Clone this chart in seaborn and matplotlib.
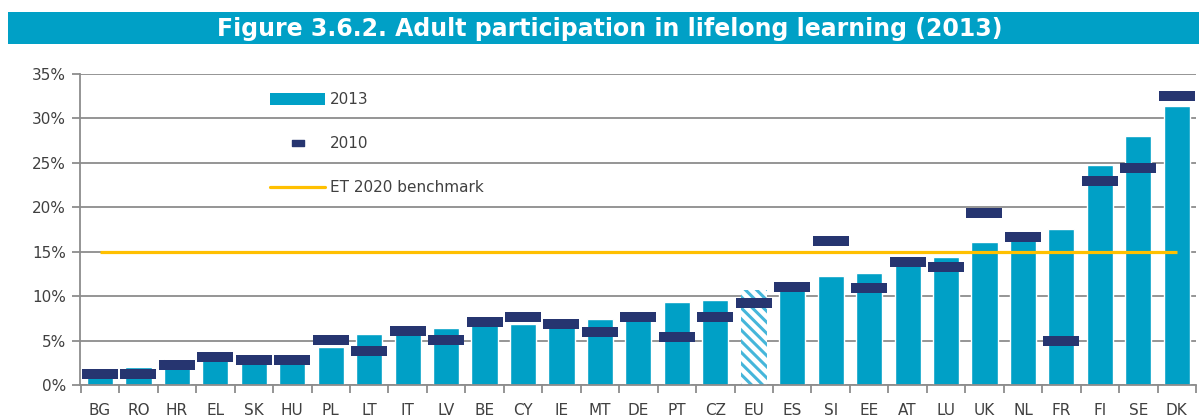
import numpy as np
import pandas as pd
import matplotlib
matplotlib.use("Agg")
import matplotlib.pyplot as plt
from matplotlib.path import Path
from matplotlib.patches import Rectangle, Patch
from matplotlib.lines import Line2D
import seaborn as sns

countries = ["BG", "RO", "HR", "EL", "SK", "HU", "PL", "LT", "IT", "LV", "BE", "CY", "IE", "MT",
             "DE", "PT", "CZ", "EU", "ES", "SI", "EE", "AT", "LU", "UK", "NL", "FR", "FI", "SE", "DK"]
v2013 = [1.5, 2.0, 2.9, 2.9, 2.9, 3.0, 4.3, 5.7, 5.8, 6.4, 6.8, 6.9, 6.6, 7.4,
         7.5, 9.3, 9.6, 10.7, 10.9, 12.3, 12.6, 13.6, 14.4, 16.1, 17.3, 17.6, 24.8, 28.0, 31.4]
v2010 = [1.2, 1.2, 2.2, 3.1, 2.8, 2.8, 5.1, 3.8, 6.1, 5.1, 7.1, 7.7, 6.9, 6.0,
         7.7, 5.4, 7.6, 9.2, 11.0, 16.2, 10.9, 13.8, 13.3, 19.4, 16.6, 4.95, 23.0, 24.4, 32.5]
benchmark = 15.0
title = "Figure 3.6.2. Adult participation in lifelong learning (2013)"
legend_labels = ["2013", "2010", "ET 2020 benchmark"]
yticks = [0, 5, 10, 15, 20, 25, 30, 35]

BAR = "#00A0C6"
NAVY = "#263570"
GOLD = "#FFC000"
GRID = "#8c8c8c"
TXT = "#404040"

sns.set_theme(style="white")
plt.rcParams["font.family"] = ["DejaVu Sans"]
plt.rcParams["hatch.linewidth"] = 2.2

fig = plt.figure(figsize=(11.99, 4.19), dpi=100)
ax = fig.add_axes([80 / 1199, 34 / 419, 1116 / 1199, 311 / 419])

# banner
fig.patches.append(Rectangle((8 / 1199, (419 - 44) / 419), 1 - 8 / 1199, 32 / 419,
                             transform=fig.transFigure, facecolor=BAR, edgecolor="none", zorder=0))
fig.text(610 / 1199, (419 - 29) / 419, title, color="white", fontsize=17, fontweight="bold",
         ha="center", va="center")

df = pd.DataFrame({"country": countries, "y2013": v2013, "y2010": v2010})
x = np.arange(len(countries))

sns.barplot(data=df, x="country", y="y2013", color=BAR, saturation=1, width=0.68, ax=ax, zorder=2)
eu = countries.index("EU")
p = ax.patches[eu]
p.set_facecolor("white")
p.set_edgecolor("#45B6DA")
p.set_hatch("\\\\\\")
p.set_linewidth(0)

# benchmark line
ax.plot(x, np.full(len(x), benchmark), color=GOLD, lw=2.3, zorder=3, solid_capstyle="butt")

# 2010 markers
rect = Path([(-2, -0.5), (2, -0.5), (2, 0.5), (-2, 0.5), (-2, -0.5)],
            [Path.MOVETO, Path.LINETO, Path.LINETO, Path.LINETO, Path.CLOSEPOLY])
ax.scatter(x, df["y2010"], marker=rect, s=26 ** 2, color=NAVY, linewidths=0, zorder=4)

ax.set_ylim(0, 35)
ax.set_xlim(-0.52, len(x) - 0.53)
ax.set_yticks(yticks)
ax.set_yticklabels([f"{t}%" for t in yticks], fontsize=11, color=TXT)
ax.set_xticks(x)
ax.set_xticklabels(countries, fontsize=11, color=TXT)
ax.set_xticks(np.arange(len(x) + 1) - 0.5, minor=True)
ax.tick_params(axis="x", which="major", length=0, pad=13)
ax.tick_params(axis="x", which="minor", length=6, width=1.3, color=GRID, direction="out", bottom=True)
ax.tick_params(axis="y", length=6, width=1.3, color=GRID, left=True, pad=4)
ax.yaxis.grid(True, color=GRID, lw=1.3)
ax.set_axisbelow(True)
ax.set_xlabel("")
ax.set_ylabel("")
for s in ["top", "right"]:
    ax.spines[s].set_visible(False)
for s in ["left", "bottom"]:
    ax.spines[s].set_color(GRID)
    ax.spines[s].set_linewidth(1.3)

small = Path([(-1.2, -0.5), (1.2, -0.5), (1.2, 0.5), (-1.2, 0.5), (-1.2, -0.5)],
             [Path.MOVETO, Path.LINETO, Path.LINETO, Path.LINETO, Path.CLOSEPOLY])
handles = [Patch(facecolor=BAR, edgecolor="none"),
           Line2D([], [], marker=small, markersize=9, color=NAVY, linestyle="none"),
           Line2D([], [], color=GOLD, lw=2.3)]
leg = ax.legend(handles, legend_labels, loc="upper left", bbox_to_anchor=(0.158, 0.985),
                frameon=False, fontsize=11, handlelength=3.6, handleheight=0.8,
                labelspacing=1.9, handletextpad=0.3)
for t in leg.get_texts():
    t.set_color(TXT)

fig.savefig("out.png", dpi=100)
